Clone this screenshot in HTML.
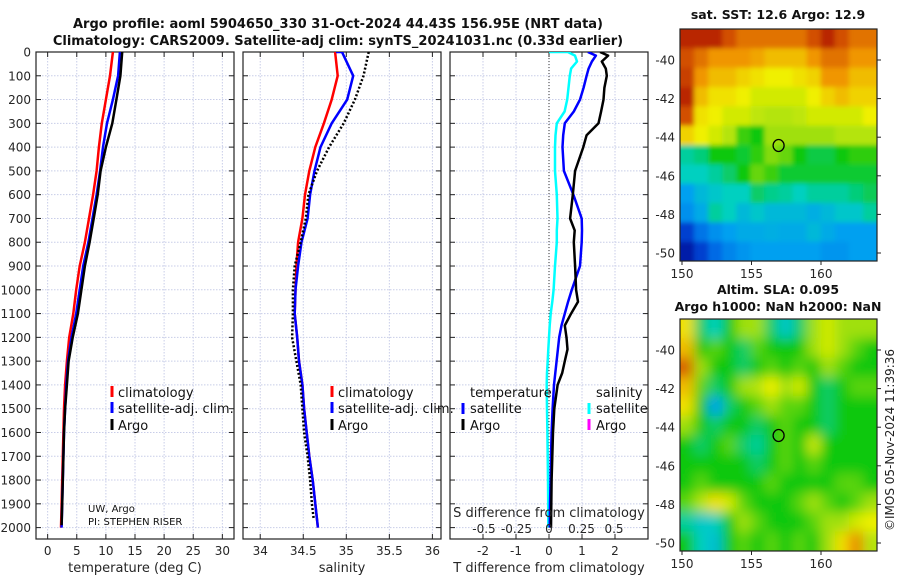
<!DOCTYPE html>
<html><head><meta charset="utf-8"><style>
html,body{margin:0;padding:0;background:#fff;}
svg{display:block;font-family:"DejaVu Sans","Liberation Sans",sans-serif;}
</style></head><body>
<svg id="fig" width="900" height="580" viewBox="0 0 900 580" xmlns="http://www.w3.org/2000/svg">
<defs>
<clipPath id="c1"><rect x="36" y="52" width="198" height="487"/></clipPath>
<clipPath id="c2"><rect x="243" y="52" width="198" height="487"/></clipPath>
<clipPath id="c3"><rect x="450" y="52" width="198" height="487"/></clipPath>
<clipPath id="cm1"><rect x="680" y="29" width="197" height="232"/></clipPath>
<clipPath id="cm2"><rect x="680" y="319" width="197" height="232"/></clipPath>
<filter id="bl1" x="-5%" y="-5%" width="110%" height="110%"><feGaussianBlur stdDeviation="2.5"/></filter>
<filter id="bl2" x="-5%" y="-5%" width="110%" height="110%"><feGaussianBlur stdDeviation="6"/></filter>
</defs>
<text x="338" y="28" font-size="13" font-weight="bold" text-anchor="middle" fill="#111">Argo profile: aoml 5904650_330 31-Oct-2024 44.43S 156.95E (NRT data)</text>
<text x="338" y="45" font-size="13" font-weight="bold" text-anchor="middle" fill="#111">Climatology: CARS2009. Satellite-adj clim: synTS_20241031.nc (0.33d earlier)</text>
<text x="778" y="19" font-size="12.5" font-weight="bold" text-anchor="middle" fill="#111">sat. SST: 12.6 Argo: 12.9</text>
<text x="778" y="294" font-size="12.5" font-weight="bold" text-anchor="middle" fill="#111">Altim. SLA: 0.095</text>
<text x="778" y="311" font-size="12.5" font-weight="bold" text-anchor="middle" fill="#111">Argo h1000: NaN h2000: NaN</text>
<text transform="translate(894,440) rotate(-90)" font-size="12" text-anchor="middle" fill="#222">©IMOS 05-Nov-2024 11:39:36</text>
<g id="layer"></g>
</svg>
<script>
// ---- profile data ----
const depths = [0,100,200,300,400,500,600,700,800,900,1000,1100,1200,1300,1400,1500,1600,1700,1800,1900,2000];
const climT = [11.2,10.7,10.0,9.3,8.8,8.4,7.8,7.1,6.4,5.5,4.9,4.4,3.7,3.3,3.0,2.8,2.7,2.6,2.5,2.4,2.3];
const satT  = [12.4,12.1,11.2,10.2,9.5,9.0,8.4,7.7,7.0,6.1,5.5,4.9,4.1,3.5,3.2,3.0,2.8,2.7,2.6,2.5,2.4];
const argoT = [12.8,12.5,11.8,11.1,10.0,9.1,8.6,7.9,7.2,6.4,5.8,5.2,4.3,3.6,3.3,3.0,2.8,2.7,2.6,2.5,2.4];
const climS = [34.87,34.9,34.83,34.74,34.64,34.57,34.52,34.49,34.44,34.42,34.41,34.4,34.43,34.45,34.49,34.51,34.54,34.57,34.61,34.64,34.67];
const satS  = [34.95,35.08,35.01,34.83,34.7,34.63,34.58,34.55,34.48,34.44,34.41,34.4,34.43,34.45,34.49,34.51,34.54,34.57,34.61,34.64,34.67];
const argoS = [35.26,35.2,35.1,34.97,34.8,34.66,34.56,34.53,34.47,34.4,34.38,34.38,34.37,34.42,34.47,34.49,34.51,34.55,34.58,34.6,34.62];
const satSurfS = 34.88;
const diffDepths = [0,15,40,70,100,150,200,250,300,350,400,500,600,700,750,800,900,1000,1050,1100,1150,1200,1250,1300,1350,1400,1500,1600,1700,1800,1900,2000];
const satTdiff  = [1.18,1.42,1.3,1.2,1.14,1.05,0.94,0.75,0.48,0.43,0.41,0.45,0.74,0.99,1.0,0.99,0.94,0.69,0.58,0.48,0.38,0.31,0.27,0.23,0.19,0.15,0.11,0.08,0.06,0.05,0.03,0.02];
const argoTdiff = [1.55,1.79,1.6,1.72,1.75,1.68,1.65,1.58,1.5,1.14,1.04,0.79,0.72,0.64,0.78,0.75,0.79,0.82,0.88,0.67,0.48,0.53,0.56,0.48,0.4,0.26,0.16,0.12,0.1,0.08,0.07,0.06];
const satSdiff  = [0.145,0.2,0.215,0.17,0.16,0.15,0.14,0.12,0.06,0.05,0.046,0.046,0.06,0.065,0.06,0.06,0.046,0.035,0.025,0.013,0.005,0.0,-0.005,-0.01,-0.015,-0.018,-0.015,-0.012,-0.01,-0.008,-0.006,-0.005];
const depthTicks = [0,100,200,300,400,500,600,700,800,900,1000,1100,1200,1300,1400,1500,1600,1700,1800,1900,2000];
const tTicks = [0,5,10,15,20,25,30];
const sTicks = [34,34.5,35,35.5,36];
const sTickLabels = ["34","34.5","35","35.5","36"];
const dTTicks = [-2,-1,0,1,2];
const dSTicks = [-0.5,-0.25,0,0.25,0.5];
const dSTickLabels = ["-0.5","-0.25","0","0.25","0.5"];
// ---- map data (rows north->south, cols west->east) ----
const sstGrid = [
[0.95,0.95,0.95,0.9,0.85,0.85,0.85,0.85,0.85,0.9,0.95,0.9,0.85,0.85],
[0.9,0.85,0.8,0.8,0.8,0.78,0.75,0.75,0.75,0.8,0.85,0.85,0.8,0.8],
[0.92,0.8,0.75,0.75,0.72,0.7,0.68,0.68,0.7,0.72,0.8,0.8,0.75,0.75],
[0.95,0.75,0.7,0.7,0.68,0.65,0.65,0.65,0.65,0.68,0.72,0.75,0.72,0.72],
[0.9,0.7,0.68,0.65,0.65,0.63,0.62,0.62,0.63,0.65,0.65,0.65,0.65,0.68],
[0.72,0.68,0.65,0.62,0.53,0.5,0.6,0.6,0.6,0.6,0.6,0.62,0.62,0.62],
[0.42,0.44,0.5,0.5,0.48,0.52,0.58,0.56,0.5,0.47,0.47,0.5,0.52,0.52],
[0.4,0.4,0.42,0.45,0.5,0.56,0.53,0.48,0.48,0.48,0.48,0.48,0.48,0.48],
[0.3,0.35,0.38,0.4,0.4,0.45,0.43,0.42,0.4,0.42,0.42,0.42,0.44,0.46],
[0.27,0.32,0.42,0.4,0.35,0.38,0.35,0.35,0.35,0.33,0.35,0.38,0.38,0.42],
[0.12,0.22,0.27,0.3,0.32,0.32,0.33,0.32,0.32,0.35,0.32,0.3,0.3,0.3],
[0.05,0.12,0.2,0.25,0.28,0.3,0.3,0.3,0.3,0.3,0.28,0.28,0.3,0.3]];
const slaGrid = [
[0.7,0.45,0.4,0.5,0.6,0.6,0.45,0.38,0.45,0.6,0.65,0.6,0.6,0.6],
[0.75,0.5,0.55,0.5,0.45,0.55,0.5,0.5,0.5,0.6,0.65,0.6,0.55,0.5],
[0.88,0.6,0.5,0.5,0.45,0.5,0.55,0.5,0.55,0.5,0.6,0.55,0.5,0.5],
[0.75,0.55,0.45,0.5,0.6,0.62,0.68,0.6,0.65,0.5,0.45,0.5,0.55,0.55],
[0.7,0.5,0.3,0.45,0.5,0.55,0.6,0.55,0.55,0.5,0.45,0.5,0.5,0.5],
[0.6,0.5,0.45,0.5,0.5,0.45,0.5,0.55,0.5,0.5,0.45,0.5,0.5,0.5],
[0.5,0.45,0.5,0.55,0.45,0.42,0.5,0.55,0.5,0.64,0.5,0.5,0.5,0.5],
[0.5,0.5,0.5,0.5,0.5,0.45,0.5,0.55,0.5,0.55,0.5,0.5,0.5,0.5],
[0.5,0.55,0.5,0.5,0.5,0.5,0.55,0.5,0.5,0.5,0.5,0.55,0.55,0.5],
[0.55,0.62,0.7,0.65,0.55,0.5,0.5,0.5,0.55,0.6,0.55,0.5,0.55,0.6],
[0.42,0.38,0.4,0.5,0.6,0.55,0.5,0.5,0.5,0.55,0.6,0.6,0.65,0.68],
[0.5,0.4,0.36,0.5,0.55,0.5,0.55,0.5,0.55,0.5,0.6,0.7,0.82,0.62]];
const lonTicks = [150,155,160];
const latTicks = [-40,-42,-44,-46,-48,-50];
const argoLon = 156.95;
const argoLat = -44.43;

const NS='http://www.w3.org/2000/svg';
const layer=document.getElementById('layer');
function mk(tag,parent){const e=document.createElementNS(NS,tag);(parent||layer).appendChild(e);return e;}
const Y0=52, PXM=0.2378;
function yD(d){return Y0+d*PXM;}
const panels=[
 {x0:36,x1:234,min:-2,max:32},
 {x0:243,x1:441,min:33.8,max:36.1},
 {x0:450,x1:648,min:-3,max:3}];
function xs(p,v){return p.x0+(v-p.min)/(p.max-p.min)*(p.x1-p.x0);}
const SP={x0:450,x1:648,min:-0.7615,max:0.7615};

function gridAndFrame(p,idx,xt){
  const g=mk('g');
  
  
  depthTicks.forEach(d=>{const l=mk('line',g);l.setAttribute('x1',p.x0);l.setAttribute('x2',p.x1);l.setAttribute('y1',yD(d));l.setAttribute('y2',yD(d));l.setAttribute('stroke','#c8cde8');l.setAttribute('stroke-width','1');l.setAttribute('stroke-dasharray','1.5,1.5');
    
    
    [[p.x0,p.x0+5],[p.x1-5,p.x1]].forEach(a=>{const t=mk('line',g);t.setAttribute('x1',a[0]);t.setAttribute('x2',a[1]);t.setAttribute('y1',yD(d));t.setAttribute('y2',yD(d));t.setAttribute('stroke','#222');
      
      });
  });
  xt.forEach(v=>{const x=xs(p,v);const l=mk('line',g);l.setAttribute('x1',x);l.setAttribute('x2',x);l.setAttribute('y1',52);l.setAttribute('y2',539);l.setAttribute('stroke','#c8cde8');l.setAttribute('stroke-dasharray','1.5,1.5');
    
    
    [[539,534],[52,57]].forEach(a=>{const t=mk('line',g);t.setAttribute('x1',x);t.setAttribute('x2',x);t.setAttribute('y1',a[0]);t.setAttribute('y2',a[1]);t.setAttribute('stroke','#222');
      
      });
  });
  const r=mk('rect');r.setAttribute('x',p.x0);r.setAttribute('y',52);r.setAttribute('width',p.x1-p.x0);r.setAttribute('height',487);r.setAttribute('fill','none');r.setAttribute('stroke','#222');r.setAttribute('stroke-width','1.2');
  
  
}
function txt(x,y,s,size,anchor,fill,name){const t=mk('text');t.setAttribute('x',x);t.setAttribute('y',y);t.setAttribute('font-size',size);t.setAttribute('text-anchor',anchor);t.setAttribute('fill',fill||'#262626');t.textContent=s;
  
  
  return t;}
function series(p,vals,ds,color,w,dash,clip,name){
  const pts=vals.map((v,i)=>xs(p,v).toFixed(1)+','+yD(ds[i]).toFixed(1)).join(' ');
  const l=mk('polyline');l.setAttribute('points',pts);l.setAttribute('fill','none');l.setAttribute('stroke',color);l.setAttribute('stroke-width',w);l.setAttribute('stroke-linejoin','round');
  if(dash)l.setAttribute('stroke-dasharray',dash);
  l.setAttribute('clip-path','url(#'+clip+')');
  
  
  return l;}

gridAndFrame(panels[0],0,tTicks);
gridAndFrame(panels[1],1,sTicks);
gridAndFrame(panels[2],2,dTTicks);

depthTicks.forEach(d=>txt(31,yD(d)+4.5,String(d),12,'end','#262626','depth-tick-label'));
tTicks.forEach(v=>txt(xs(panels[0],v),555,String(v),12,'middle','#262626','temperature-tick-label'));
sTicks.forEach((v,i)=>txt(xs(panels[1],v),555,sTickLabels[i],12,'middle','#262626','salinity-tick-label'));
dTTicks.forEach(v=>txt(xs(panels[2],v),555,String(v),12,'middle','#262626','tdiff-tick-label'));
txt(135,572,'temperature (deg C)',13,'middle','#262626','temperature-axis-title');
txt(342,572,'salinity',13,'middle','#262626','salinity-axis-title');
txt(549,572,'T difference from climatology',13,'middle','#262626','tdiff-axis-title');

// panel 1
series(panels[0],climT,depths,'#ff0000',2.5,null,'c1','temperature-climatology-line');
series(panels[0],satT,depths,'#0000ff',2.5,null,'c1','temperature-satellite-line');
series(panels[0],argoT.slice(0,20).concat([argoT[20]]),depths.slice(0,20).concat([1990]),'#000',2.5,null,'c1','temperature-argo-line');
// panel 2
series(panels[1],[climS[0]].concat(climS),[0].concat(depths),'#ff0000',2.5,null,'c2','salinity-climatology-line');
series(panels[1],[satSurfS].concat(satS),[0].concat(depths),'#0000ff',2.5,null,'c2','salinity-satellite-line');
series(panels[1],argoS,depths.slice(0,20).concat([1960]),'#000',2.5,'2,2','c2','salinity-argo-line');
// panel 3
{const x=xs(panels[2],0);const l=mk('line');l.setAttribute('x1',x);l.setAttribute('x2',x);l.setAttribute('y1',52);l.setAttribute('y2',539);l.setAttribute('stroke','#333');l.setAttribute('stroke-dasharray','1,2');
 
 }
series(SP,[0].concat(satSdiff),[0].concat(diffDepths),'#00ffff',2.5,null,'c3','salinity-diff-satellite-line');
series(panels[2],satTdiff,diffDepths,'#0000ff',2.5,null,'c3','temperature-diff-satellite-line');
series(panels[2],argoTdiff,diffDepths,'#000',2.5,null,'c3','temperature-diff-argo-line');
txt(549,517,'S difference from climatology',13,'middle','#262626','sdiff-axis-title');
dSTicks.forEach((v,i)=>txt(xs(SP,v),533,dSTickLabels[i],12,'middle','#262626','sdiff-tick-label'));

// legends
function marker(x,y,color,name){const r=mk('rect');r.setAttribute('x',x-1.5);r.setAttribute('y',y-6);r.setAttribute('width',3);r.setAttribute('height',11);r.setAttribute('fill',color);
  
  }
[[112,118,'legend1'],[332,338,'legend2']].forEach(a=>{
  marker(a[0],392,'#ff0000',a[2]+'-climatology-marker');txt(a[1],397,'climatology',13,'start','#111',a[2]+'-climatology');
  marker(a[0],408,'#0000ff',a[2]+'-satellite-marker');txt(a[1],413,'satellite-adj. clim.',13,'start','#111',a[2]+'-satellite');
  marker(a[0],425,'#000',a[2]+'-argo-marker');txt(a[1],430,'Argo',13,'start','#111',a[2]+'-argo');
});
txt(470,397,'temperature',13,'start','#111','legend3-temperature-heading');
marker(463,409,'#0000ff','legend3-t-satellite-marker');txt(470,413,'satellite',13,'start','#111','legend3-t-satellite');
marker(463,425,'#000','legend3-t-argo-marker');txt(470,430,'Argo',13,'start','#111','legend3-t-argo');
txt(596,397,'salinity',13,'start','#111','legend3-salinity-heading');
marker(589,409,'#00ffff','legend3-s-satellite-marker');txt(596,413,'satellite',13,'start','#111','legend3-s-satellite');
marker(589,425,'#ff00ff','legend3-s-argo-marker');txt(596,430,'Argo',13,'start','#111','legend3-s-argo');
txt(88,512,'UW, Argo',10,'start','#111','institution-label');
txt(88,525,'PI: STEPHEN RISER',10,'start','#111','pi-label');

// ---- maps ----
const stops=[[0,[0,0,140]],[0.15,[0,80,224]],[0.3,[0,160,240]],[0.4,[0,208,192]],[0.5,[16,200,16]],[0.6,[160,224,16]],[0.68,[240,240,0]],[0.8,[240,150,0]],[0.9,[210,80,0]],[1,[160,0,0]]];
function cmap(v){for(let i=1;i<stops.length;i++){if(v<=stops[i][0]){const a=stops[i-1],b=stops[i];const t=(v-a[0])/(b[0]-a[0]);return 'rgb('+a[1].map((c,k)=>Math.round(c+(b[1][k]-c)*t)).join(',')+')';}}return 'rgb(160,0,0)';}
function drawMap(grid,top,clip,filt,name){
  const X0=680,W=197,H=232;
  const nr=grid.length,nc=grid[0].length;
  const bg=mk('rect');bg.setAttribute('x',X0);bg.setAttribute('y',top);bg.setAttribute('width',W);bg.setAttribute('height',H);bg.setAttribute('fill',cmap(grid[6][6]));
  
  
  const cg=mk('g');cg.setAttribute('clip-path','url(#'+clip+')');
  
  
  const g=mk('g',cg);g.setAttribute('filter','url(#'+filt+')');
  
  
  for(let j=-1;j<=nr;j++)for(let i=-1;i<=nc;i++){
    const jj=Math.min(nr-1,Math.max(0,j)),ii=Math.min(nc-1,Math.max(0,i));
    const r=mk('rect',g);r.setAttribute('x',X0+i*W/nc);r.setAttribute('y',top+j*H/nr);r.setAttribute('width',W/nc+0.6);r.setAttribute('height',H/nr+0.6);r.setAttribute('fill',cmap(grid[jj][ii]));
    
    
  }
  const fr=mk('rect');fr.setAttribute('x',X0);fr.setAttribute('y',top);fr.setAttribute('width',W);fr.setAttribute('height',H);fr.setAttribute('fill','none');fr.setAttribute('stroke','#222');fr.setAttribute('stroke-width','1.2');
  
  
  const lonX=v=>682+(v-150)*13.9;
  const latY=v=>top+31+(-40-v)*19.3;
  lonTicks.forEach(v=>{txt(lonX(v),top+H+17,String(v),12,'middle','#262626',name+'-lon-label');
    const t=mk('line');t.setAttribute('x1',lonX(v));t.setAttribute('x2',lonX(v));t.setAttribute('y1',top+H);t.setAttribute('y2',top+H+4);t.setAttribute('stroke','#222');
    
    });
  latTicks.forEach(v=>{txt(675,latY(v)+4.5,String(v),12,'end','#262626',name+'-lat-label');
    const t=mk('line');t.setAttribute('x1',877);t.setAttribute('x2',881);t.setAttribute('y1',latY(v));t.setAttribute('y2',latY(v));t.setAttribute('stroke','#222');
    
    });
  const c=mk('ellipse');c.setAttribute('cx',lonX(argoLon));c.setAttribute('cy',latY(argoLat));c.setAttribute('rx',5.5);c.setAttribute('ry',6);c.setAttribute('fill','none');c.setAttribute('stroke','#000');c.setAttribute('stroke-width','1.3');
  
  
}
drawMap(sstGrid,29,'cm1','bl1','sst-map');
drawMap(slaGrid,319,'cm2','bl2','sla-map');
</script>
</body></html>
